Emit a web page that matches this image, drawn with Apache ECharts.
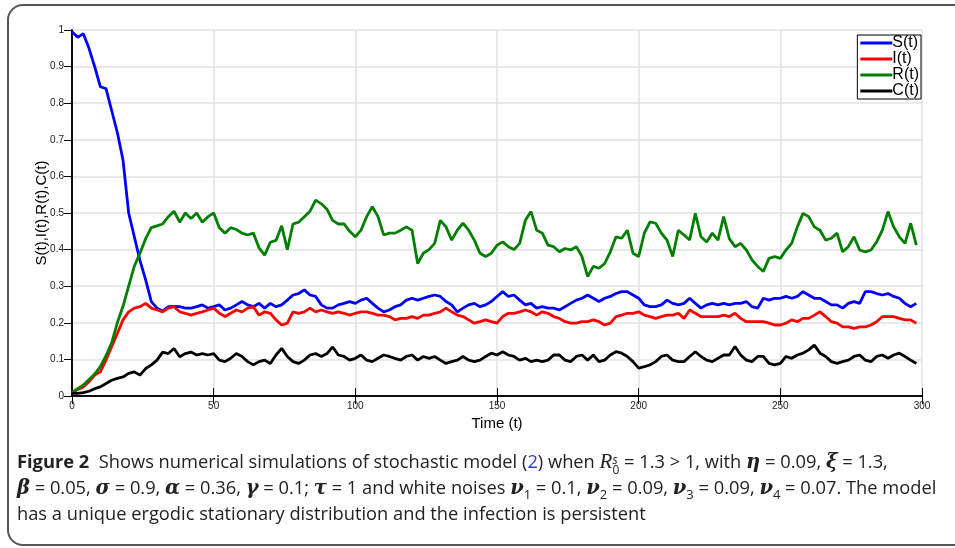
<!DOCTYPE html>
<html>
<head>
<meta charset="utf-8">
<script src="https://cdn.jsdelivr.net/npm/echarts@6/dist/echarts.min.js"></script>
<style>
  html, body { margin: 0; padding: 0; background: #fff; overflow: hidden; }
  #frame {
    position: absolute; left: 7px; top: 4px; width: 970px; height: 542px;
    border: 2px solid #555; border-radius: 16px; box-sizing: border-box;
  }
  #graph { position: absolute; left: 0; top: 0; width: 955px; height: 548px; }
  #caption {
    position: absolute; left: 17px; top: 449px; width: 935px;
    font-family: "Open Sans", "Noto Sans", sans-serif; font-size: 18.3px;
    line-height: 24.5px; color: #222; white-space: nowrap;
  }
  #caption b { font-weight: 700; }
  #caption .m { font-family: "DejaVu Serif", "Liberation Serif", serif; font-style: italic; font-weight: bold; font-size: 19.5px; }
  #caption .ref { color: #2a3ad0; }
  #caption .ss { display: inline-block; vertical-align: -6px; line-height: 10px; font-size: 12px; text-align: left; }
  #caption sub { font-size: 13px; line-height: 0; }
</style>
</head>
<body>
<div id="frame"></div>
<div id="graph"></div>
<div id="caption">
  <b>Figure 2</b>&nbsp; Shows numerical simulations of stochastic model (<span class="ref">2</span>) when <span class="m" style="font-weight:normal;font-family:'Liberation Serif',serif;font-size:21px">R</span><span class="ss"><i>s</i><br>0</span> = 1.3 &gt; 1, with <span class="m">η</span> = 0.09, <span class="m">ξ</span> = 1.3,<br>
  <span class="m">β</span> = 0.05, <span class="m">σ</span> = 0.9, <span class="m">α</span> = 0.36, <span class="m">γ</span> = 0.1; <span class="m">τ</span> = 1 and white noises <span class="m">ν</span><sub>1</sub> = 0.1, <span class="m">ν</span><sub>2</sub> = 0.09, <span class="m">ν</span><sub>3</sub> = 0.09, <span class="m">ν</span><sub>4</sub> = 0.07. The model<br>
  has a unique ergodic stationary distribution and the infection is persistent
</div>
<script>
// sampled every 2 time units, t = 0 .. 298
var step = 2;

var S = [0.995, 0.98, 0.99, 0.95, 0.90, 0.845, 0.84, 0.78, 0.72, 0.645, 0.50, 0.435, 0.37, 0.317, 0.258,
  0.240, 0.232, 0.244, 0.245, 0.244, 0.240, 0.240, 0.244, 0.249, 0.240, 0.244, 0.249, 0.235, 0.240, 0.249,
  0.258, 0.249, 0.244, 0.253, 0.240, 0.253, 0.244, 0.249, 0.262, 0.276, 0.280, 0.290, 0.276, 0.272, 0.249,
  0.240, 0.240, 0.249, 0.253, 0.258,
  0.253, 0.262, 0.267, 0.253, 0.240, 0.230, 0.235, 0.244, 0.249, 0.262, 0.267, 0.262, 0.267, 0.272, 0.276,
  0.272, 0.258, 0.249, 0.230, 0.240, 0.249, 0.253, 0.244, 0.249, 0.258, 0.272, 0.285, 0.272, 0.276, 0.262,
  0.249, 0.253, 0.240, 0.244, 0.240, 0.240, 0.235, 0.244, 0.253, 0.262, 0.267, 0.276, 0.267, 0.258, 0.267,
  0.272, 0.280, 0.285, 0.285, 0.276,
  0.267, 0.249, 0.244, 0.244, 0.249, 0.262, 0.253, 0.249, 0.253, 0.267, 0.253, 0.240, 0.249, 0.253, 0.249,
  0.253, 0.249, 0.253, 0.253, 0.258, 0.244, 0.240, 0.267, 0.262, 0.267, 0.267, 0.272, 0.267, 0.272, 0.285,
  0.276, 0.267, 0.267, 0.258, 0.249, 0.249, 0.240, 0.253, 0.258, 0.253, 0.285, 0.285, 0.280, 0.276, 0.280,
  0.272, 0.267, 0.253, 0.244, 0.253];

var I = [0.007, 0.018, 0.025, 0.039, 0.057, 0.066, 0.098, 0.135, 0.171, 0.208, 0.230, 0.240, 0.244, 0.253, 0.240,
  0.235, 0.230, 0.240, 0.244, 0.230, 0.226, 0.221, 0.226, 0.230, 0.235, 0.240, 0.226, 0.217, 0.226, 0.235,
  0.230, 0.240, 0.244, 0.221, 0.230, 0.226, 0.208, 0.194, 0.199, 0.230, 0.226, 0.230, 0.240, 0.230, 0.235,
  0.230, 0.226, 0.230, 0.226, 0.221,
  0.226, 0.230, 0.230, 0.226, 0.221, 0.221, 0.217, 0.208, 0.212, 0.212, 0.217, 0.212, 0.221, 0.221, 0.226,
  0.230, 0.240, 0.230, 0.221, 0.217, 0.208, 0.199, 0.203, 0.208, 0.203, 0.199, 0.217, 0.226, 0.226, 0.230,
  0.235, 0.230, 0.221, 0.230, 0.226, 0.217, 0.212, 0.203, 0.199, 0.199, 0.203, 0.203, 0.208, 0.203, 0.194,
  0.199, 0.217, 0.221, 0.226, 0.226,
  0.230, 0.221, 0.217, 0.212, 0.217, 0.221, 0.221, 0.226, 0.212, 0.235, 0.226, 0.217, 0.217, 0.217, 0.217,
  0.221, 0.217, 0.226, 0.212, 0.203, 0.203, 0.203, 0.203, 0.199, 0.194, 0.194, 0.199, 0.208, 0.203, 0.212,
  0.212, 0.221, 0.230, 0.217, 0.203, 0.199, 0.189, 0.189, 0.185, 0.189, 0.189, 0.194, 0.203, 0.217, 0.217,
  0.217, 0.212, 0.208, 0.208, 0.199];

var R = [0.01, 0.02, 0.03, 0.045, 0.06, 0.08, 0.11, 0.145, 0.20, 0.245, 0.30, 0.355, 0.39, 0.43, 0.46,
  0.465, 0.47, 0.49, 0.505, 0.475, 0.50, 0.485, 0.50, 0.475, 0.49, 0.50, 0.46, 0.445, 0.46, 0.455,
  0.445, 0.44, 0.445, 0.405, 0.385, 0.42, 0.425, 0.465, 0.40, 0.47, 0.475, 0.49, 0.505, 0.535, 0.525,
  0.51, 0.48, 0.47, 0.47, 0.45,
  0.435, 0.453, 0.49, 0.517, 0.49, 0.44, 0.445, 0.445, 0.453, 0.462, 0.453, 0.362, 0.39, 0.40, 0.417,
  0.48, 0.462, 0.426, 0.453, 0.472, 0.453, 0.426, 0.39, 0.381, 0.39, 0.412, 0.421, 0.408, 0.40, 0.417,
  0.48, 0.504, 0.453, 0.445, 0.412, 0.408, 0.394, 0.403, 0.399, 0.408, 0.381, 0.326, 0.354, 0.349, 0.362,
  0.394, 0.435, 0.431, 0.453, 0.39,
  0.381, 0.445, 0.476, 0.472, 0.445, 0.426, 0.381, 0.453, 0.44, 0.426, 0.499, 0.435, 0.421, 0.445, 0.426,
  0.49, 0.43, 0.408, 0.417, 0.399, 0.372, 0.354, 0.34, 0.376, 0.381, 0.376, 0.399, 0.417, 0.462, 0.499,
  0.49, 0.462, 0.453, 0.426, 0.431, 0.445, 0.394, 0.408, 0.435, 0.399, 0.394, 0.399, 0.421, 0.453, 0.504,
  0.462, 0.435, 0.417, 0.472, 0.412];

var C = [0.007, 0.007, 0.009, 0.013, 0.020, 0.025, 0.034, 0.043, 0.048, 0.052, 0.062, 0.066, 0.057, 0.075, 0.085,
  0.098, 0.120, 0.116, 0.130, 0.107, 0.116, 0.120, 0.112, 0.116, 0.112, 0.116, 0.098, 0.094, 0.103, 0.116,
  0.108, 0.094, 0.085, 0.094, 0.098, 0.089, 0.112, 0.130, 0.108, 0.094, 0.089, 0.098, 0.112, 0.116, 0.108,
  0.116, 0.134, 0.112, 0.108, 0.098,
  0.103, 0.112, 0.098, 0.094, 0.103, 0.112, 0.108, 0.103, 0.098, 0.108, 0.112, 0.098, 0.108, 0.103, 0.108,
  0.098, 0.089, 0.094, 0.098, 0.108, 0.098, 0.094, 0.098, 0.108, 0.117, 0.112, 0.121, 0.112, 0.108, 0.098,
  0.103, 0.094, 0.098, 0.094, 0.098, 0.112, 0.112, 0.098, 0.094, 0.108, 0.112, 0.098, 0.112, 0.094, 0.098,
  0.112, 0.121, 0.117, 0.108, 0.094,
  0.076, 0.080, 0.085, 0.094, 0.108, 0.112, 0.098, 0.094, 0.094, 0.108, 0.121, 0.108, 0.098, 0.094, 0.103,
  0.112, 0.112, 0.135, 0.112, 0.098, 0.094, 0.108, 0.108, 0.089, 0.085, 0.089, 0.108, 0.103, 0.112, 0.117,
  0.126, 0.139, 0.117, 0.108, 0.094, 0.089, 0.094, 0.098, 0.108, 0.112, 0.098, 0.094, 0.108, 0.112, 0.103,
  0.112, 0.117, 0.108, 0.098, 0.089];

var names = ['S(t)', 'I(t)', 'R(t)', 'C(t)'];
var colors = ['#0000ff', '#ff0000', '#007f00', '#000000'];

function pairs(arr) {
    return arr.map(function (v, i) { return [i * step, v]; });
}

var myChart = echarts.init(document.getElementById('graph'));
var font = 'Liberation Sans';

var option = {
    animation: false,
    grid: { left: 72, right: 33, top: 30, bottom: 152 },
    legend: {
        data: names,
        orient: 'vertical',
        right: 34, top: 35,
        itemWidth: 32, itemHeight: 3, itemGap: 0,
        icon: 'rect',
        padding: [0, 2, 0, 3],
        backgroundColor: '#fff',
        borderColor: '#000', borderWidth: 1,
        textStyle: { fontFamily: font, fontSize: 16, color: '#000', padding: [0, 0, 0, -5], lineHeight: 15 }
    },
    xAxis: [{
        type: 'value', min: 0, max: 300, interval: 50,
        name: 'Time (t)', nameLocation: 'middle', nameGap: 14,
        nameTextStyle: { fontFamily: font, fontSize: 15, color: '#000' },
        axisLine: { lineStyle: { color: '#000', width: 1.5 } },
        axisTick: { inside: true, length: 8, lineStyle: { color: '#000' } },
        axisLabel: { fontFamily: font, fontSize: 10, color: '#222', margin: 5 },
        splitLine: { show: true, lineStyle: { color: '#e2e2e2', width: 1.5 } }
    }, {
        type: 'value', min: 0, max: 300, interval: 50, position: 'top',
        axisLine: { show: true, lineStyle: { color: '#000', width: 1.5 } },
        axisTick: { inside: true, length: 8, lineStyle: { color: '#000' } },
        axisLabel: { show: false },
        splitLine: { show: false }
    }],
    yAxis: [{
        type: 'value', min: 0, max: 1, interval: 0.1,
        name: 'S(t),I(t),R(t),C(t)', nameLocation: 'middle', nameGap: 23,
        nameMoveOverlap: false,
        nameTextStyle: { fontFamily: font, fontSize: 15, color: '#000' },
        axisLine: { show: true, lineStyle: { color: '#000', width: 1.5 } },
        axisTick: { show: true, length: 7, lineStyle: { color: '#000' } },
        axisLabel: { fontFamily: font, fontSize: 10, color: '#222', margin: 8 },
        splitLine: { show: true, lineStyle: { color: '#e2e2e2', width: 1.5 } }
    }, {
        type: 'value', min: 0, max: 1, interval: 0.1, position: 'right',
        axisLine: { show: true, lineStyle: { color: '#000', width: 1.5 } },
        axisTick: { show: true, inside: true, length: 8, lineStyle: { color: '#000' } },
        axisLabel: { show: false },
        splitLine: { show: false }
    }],
    series: [S, I, R, C].map(function (arr, k) {
        return {
            name: names[k], type: 'line', data: pairs(arr),
            showSymbol: false, symbol: 'none',
            lineStyle: { color: colors[k], width: 2.8 },
            itemStyle: { color: colors[k] }
        };
    })
};
myChart.setOption(option);
</script>
</body>
</html>
